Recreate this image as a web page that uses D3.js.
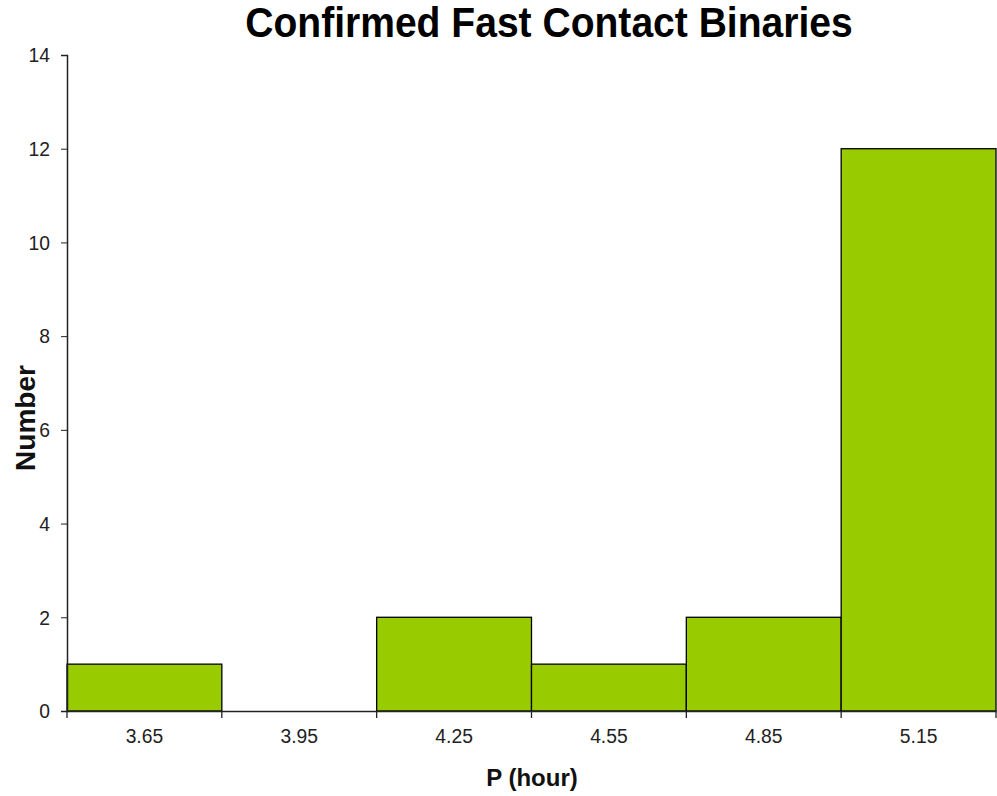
<!DOCTYPE html>
<html><head><meta charset="utf-8">
<script src="https://cdn.jsdelivr.net/npm/d3@7"></script>
<style>body{margin:0;background:#fff;} text{font-family:"Liberation Sans",Arial,sans-serif;}</style>
</head><body>
<svg id="c" width="997" height="796"></svg>
<script>
const categories = ["3.65","3.95","4.25","4.55","4.85","5.15"];
const counts = [1,0,2,1,2,12];
const yTicks = [0,2,4,6,8,10,12,14];

const svg = d3.select("#c");
const m = {left:67, right:996, top:55, bottom:711};
const x = d3.scaleBand().domain(categories).range([m.left, m.right]).padding(0);
const y = d3.scaleLinear().domain([0,14]).range([m.bottom, m.top]);
const sx = 0.92;
const FF = "Liberation Sans, Arial, sans-serif";

svg.append("text").attr("transform","translate(549,37) scale(0.93,1)").attr("text-anchor","middle")
  .attr("font-size",42).attr("font-weight","bold").attr("fill","#000").text("Confirmed Fast Contact Binaries");

svg.selectAll("rect.bar").data(counts).enter().append("rect").attr("class","bar")
  .attr("x",(d,i)=>x(categories[i])).attr("width",x.bandwidth())
  .attr("y",d=>y(d)).attr("height",d=>y(0)-y(d))
  .attr("fill","#99cc00").attr("stroke","#000").attr("stroke-width",1.3);

// y axis
const ya = svg.append("g").attr("transform",`translate(${m.left},0)`)
  .call(d3.axisLeft(y).tickValues(yTicks).tickSize(6).tickFormat(d3.format("d")));
ya.select(".domain").attr("stroke","#222").attr("stroke-width",1.5);
ya.selectAll(".tick line").attr("stroke","#222");
ya.selectAll("text").attr("font-size",21).attr("fill","#222").attr("font-family",FF)
  .attr("x",-17/sx).attr("transform",`scale(${sx},1)`);

// x axis
const xa = svg.append("g").attr("transform",`translate(0,${m.bottom})`)
  .call(d3.axisBottom(x).tickSize(0).tickPadding(17));
xa.select(".domain").attr("stroke","#222").attr("stroke-width",1.5);
xa.selectAll("text").attr("font-size",21).attr("fill","#222").attr("font-family",FF)
  .attr("transform",`scale(${sx},1)`);
// bin boundary ticks
const bounds = categories.map(c=>x(c)).concat([x(categories[categories.length-1])+x.bandwidth()]);
svg.append("g").selectAll("line").data(bounds).enter().append("line")
  .attr("x1",d=>d).attr("x2",d=>d).attr("y1",m.bottom).attr("y2",m.bottom+7)
  .attr("stroke","#222").attr("stroke-width",1.3);

svg.append("text").attr("x",532).attr("y",786).attr("text-anchor","middle")
  .attr("font-size",24).attr("font-weight","bold").attr("fill","#111").text("P (hour)");
svg.append("text").attr("transform","translate(35,418) rotate(-90)").attr("text-anchor","middle")
  .attr("font-size",28).attr("font-weight","bold").attr("fill","#111").text("Number");
</script>
</body></html>
